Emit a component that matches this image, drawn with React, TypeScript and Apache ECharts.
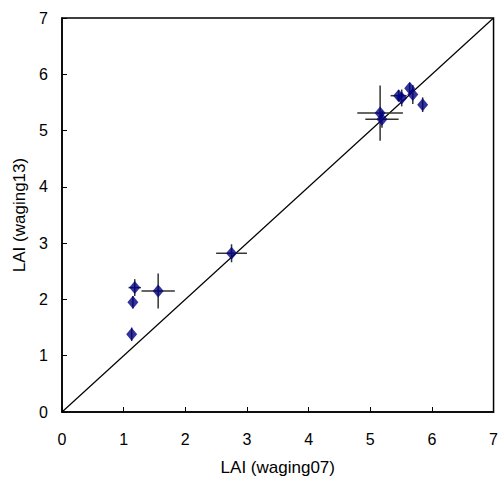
import React, { useEffect, useRef } from "react";
import * as echarts from "echarts";

const xValues = [1.13, 1.15, 1.18, 1.56, 2.75, 5.16, 5.19, 5.46, 5.51, 5.64, 5.69, 5.85];
const yValues = [1.38, 1.95, 2.21, 2.15, 2.82, 5.31, 5.2, 5.62, 5.58, 5.75, 5.64, 5.46];
const xErrors = [0, 0, 0.1, 0.27, 0.25, 0.37, 0.27, 0.13, 0, 0, 0, 0];
const yErrors = [0.12, 0.11, 0.15, 0.31, 0.16, 0.49, 0.15, 0.1, 0.15, 0.1, 0.17, 0.13];
const axisTicks = [0, 1, 2, 3, 4, 5, 6, 7];
const oneToOne = [[0, 0], [7, 7]];

export default function App() {
  const ref = useRef<HTMLDivElement>(null);
  useEffect(() => {
    if (!ref.current) return;
    const chart = echarts.init(ref.current, undefined, { renderer: "svg" });
    const points = xValues.map((x, i) => [x, yValues[i]]);
    const errData = xValues.map((x, i) => [x, yValues[i], xErrors[i], yErrors[i]]);
    const font = "'Liberation Sans', Arial, sans-serif";
    const axisCommon = {
      type: "value" as const,
      min: axisTicks[0],
      max: axisTicks[axisTicks.length - 1],
      interval: 1,
      splitLine: { show: false },
      axisLine: { show: true, lineStyle: { color: "#000", width: 1.5 } },
      axisTick: { show: true, inside: true, length: 5, lineStyle: { color: "#000" } },
      nameLocation: "middle" as const,
      nameTextStyle: { fontFamily: font, fontSize: 17, color: "#000" },
      axisLabel: { fontFamily: font, fontSize: 16, color: "#000" },
    };
    chart.setOption({
      animation: false,
      grid: {
        left: 62,
        right: 4,
        top: 18,
        bottom: 69,
        show: true,
        borderColor: "#000",
        borderWidth: 1.5,
        backgroundColor: "transparent",
      },
      xAxis: {
        ...axisCommon,
        name: "LAI (waging07)",
        nameGap: 47,
        axisLabel: { ...axisCommon.axisLabel, margin: 19 },
      },
      yAxis: {
        ...axisCommon,
        name: "LAI (waging13)",
        nameGap: 33,
        axisLabel: { ...axisCommon.axisLabel, margin: 14 },
      },
      series: [
        {
          type: "line",
          data: oneToOne,
          symbol: "none",
          lineStyle: { color: "#000", width: 1.2 },
          z: 1,
        },
        {
          type: "custom",
          data: errData,
          z: 2,
          renderItem: (params: any, api: any) => {
            const x = api.value(0);
            const y = api.value(1);
            const xe = api.value(2);
            const ye = api.value(3);
            const children: any[] = [];
            const style = { stroke: "#333", lineWidth: 1.5 };
            if (xe > 0) {
              const a = api.coord([x - xe, y]);
              const b = api.coord([x + xe, y]);
              children.push({ type: "line", shape: { x1: a[0], y1: a[1], x2: b[0], y2: b[1] }, style });
            }
            if (ye > 0) {
              const a = api.coord([x, y - ye]);
              const b = api.coord([x, y + ye]);
              children.push({ type: "line", shape: { x1: a[0], y1: a[1], x2: b[0], y2: b[1] }, style });
            }
            return { type: "group", children };
          },
        },
        {
          type: "scatter",
          data: points,
          symbol: "diamond",
          symbolSize: [11, 13],
          itemStyle: { color: "#000080" },
          z: 3,
        },
      ],
    });
    return () => chart.dispose();
  }, []);
  return (
    <div
      ref={ref}
      style={{ position: "absolute", left: 0, top: 0, width: 501, height: 481 }}
    />
  );
}
